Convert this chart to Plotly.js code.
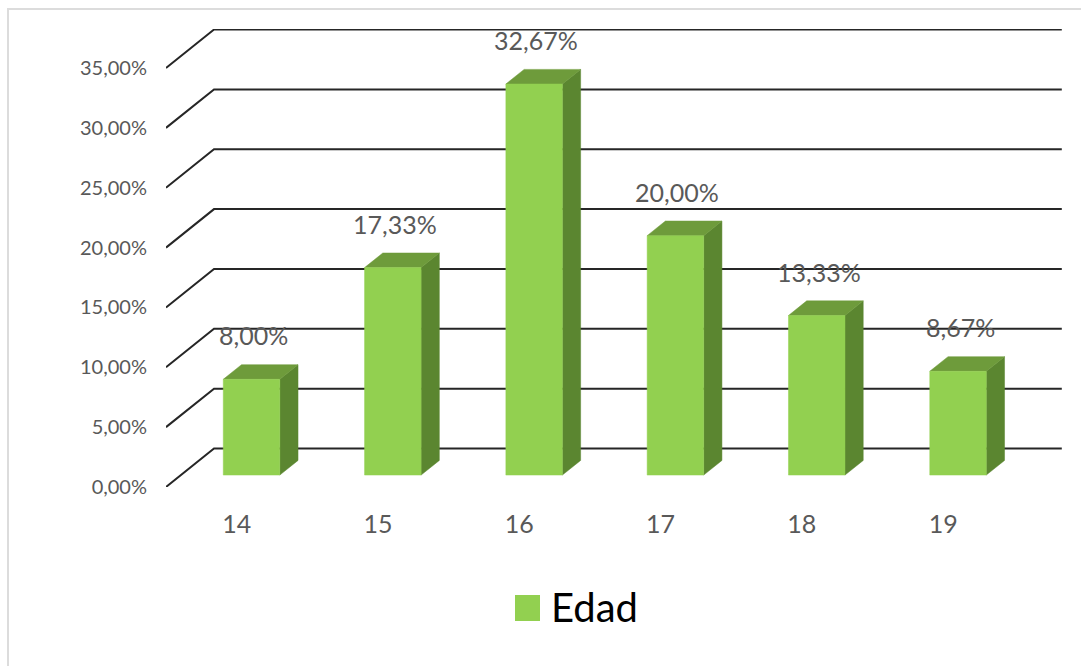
<!DOCTYPE html>
<html>
<head>
<meta charset="utf-8">
<script src="https://cdn.plot.ly/plotly-3.0.1.min.js"></script>
<style>
  html, body { margin: 0; padding: 0; background: #ffffff; }
  #wrap { position: relative; width: 1081px; height: 666px; overflow: hidden; }
  #chart { position: absolute; left: 0; top: 0; width: 1081px; height: 666px; }
  #frame { position: absolute; left: 7px; top: 8px; width: 1100px; height: 700px;
           border-left: 2px solid #dcdcdc; border-top: 2px solid #dcdcdc; pointer-events: none; }
</style>
</head>
<body>
<div id="wrap">
  <div id="chart"></div>
  <div id="frame"></div>
</div>
<script>
// ---- data ----
const categories = ['14', '15', '16', '17', '18', '19'];
const edad = [8.00, 17.33, 32.67, 20.00, 13.33, 8.67];
const yTicks = [0, 5, 10, 15, 20, 25, 30, 35];
const seriesName = 'Edad';

// ---- geometry / style ----
const W = 1081, H = 666;
const M = { l: 166, r: 19, t: 29, b: 179 };
const plotW = W - M.l - M.r, plotH = H - M.t - M.b;
const catPx = 141.3;            // pixels per category on the front plane
const pxPerPct = 11.97;         // pixels per percentage point
const depthPx = { x: 48, y: 38.5 };
const Dx = depthPx.x / catPx;   // floor depth in x units
const Dy = depthPx.y / pxPerPct;// floor depth in y units
const xRange = [-0.5, -0.5 + plotW / catPx];
const yRange = [0, plotH / pxPerPct];
const f0 = 0.31, f1 = 0.69;     // bar front/back as fraction of depth
const halfW = 0.2;              // half bar width in category units
const colFront = '#92D050', colTop = '#6E9B3B', colSide = '#5B8630';
const txtGray = '#595959';
const FONT = 'Lato, "Open Sans", sans-serif';

const fmt = v => v.toFixed(2).replace('.', ',') + '%';

// gridlines (floor diagonal + back wall)
const gx = [], gy = [];
yTicks.forEach(v => {
  gx.push(-0.5, -0.5 + Dx, categories.length - 0.5 + Dx, null);
  gy.push(v, v + Dy, v + Dy, null);
});

// bar faces
const fx = [], fy = [], tx = [], ty = [], sx = [], sy = [];
edad.forEach((v, i) => {
  const xl0 = i + f0 * Dx - halfW, xr0 = i + f0 * Dx + halfW;
  const xl1 = i + f1 * Dx - halfW, xr1 = i + f1 * Dx + halfW;
  const b0 = f0 * Dy, b1 = f1 * Dy;
  fx.push(xl0, xr0, xr0, xl0, xl0, null);
  fy.push(b0, b0, b0 + v, b0 + v, b0, null);
  tx.push(xl0, xr0, xr1, xl1, xl0, null);
  ty.push(b0 + v, b0 + v, b1 + v, b1 + v, b0 + v, null);
  sx.push(xr0, xr1, xr1, xr0, xr0, null);
  sy.push(b0, b1, b1 + v, b0 + v, b0, null);
});

const face = (x, y, c, name) => ({
  type: 'scatter', mode: 'lines', x: x, y: y, fill: 'toself', fillcolor: c,
  line: { color: c, width: 0.5 }, hoverinfo: 'skip', showlegend: false, name: name,
  cliponaxis: false
});

const traces = [
  { type: 'scatter', mode: 'lines', x: gx, y: gy, line: { color: '#262626', width: 2 },
    hoverinfo: 'skip', showlegend: false, cliponaxis: false },
  face(sx, sy, colSide, seriesName),
  face(tx, ty, colTop, seriesName),
  face(fx, fy, colFront, seriesName)
];

const annotations = edad.map((v, i) => ({
  x: i + f0 * Dx, y: f0 * Dy + v, xref: 'x', yref: 'y',
  text: fmt(v), showarrow: false, xshift: 2, yshift: 44, yanchor: 'middle',
  font: { family: FONT, size: 25, color: txtGray }
}));

// custom legend
const px2x = p => (p - M.l) / plotW;
const px2y = p => (H - M.b - p) / plotH;
annotations.push({
  xref: 'paper', yref: 'paper', x: px2x(549), y: px2y(607), xanchor: 'left', yanchor: 'middle',
  text: seriesName, showarrow: false, font: { family: FONT, size: 40, color: '#000000' }
});

const layout = {
  width: W, height: H, margin: M,
  paper_bgcolor: '#ffffff', plot_bgcolor: 'rgba(0,0,0,0)',
  showlegend: false,
  xaxis: {
    range: xRange, tickvals: categories.map((c, i) => i), ticktext: categories,
    showgrid: false, zeroline: false, showline: false, ticks: '',
    ticklabelstandoff: 20, tickfont: { family: FONT, size: 25, color: txtGray }, fixedrange: true
  },
  yaxis: {
    range: yRange, tickvals: yTicks, ticktext: yTicks.map(fmt),
    showgrid: false, zeroline: false, showline: false, ticks: '',
    ticklabelstandoff: 18, tickfont: { family: FONT, size: 20, color: txtGray }, fixedrange: true
  },
  shapes: [{
    type: 'rect', xref: 'paper', yref: 'paper',
    x0: px2x(515), x1: px2x(540), y0: px2y(621), y1: px2y(595),
    fillcolor: colFront, line: { width: 0 }
  }],
  annotations: annotations
};

Plotly.newPlot('chart', traces, layout, { displayModeBar: false, staticPlot: true });
</script>
</body>
</html>
